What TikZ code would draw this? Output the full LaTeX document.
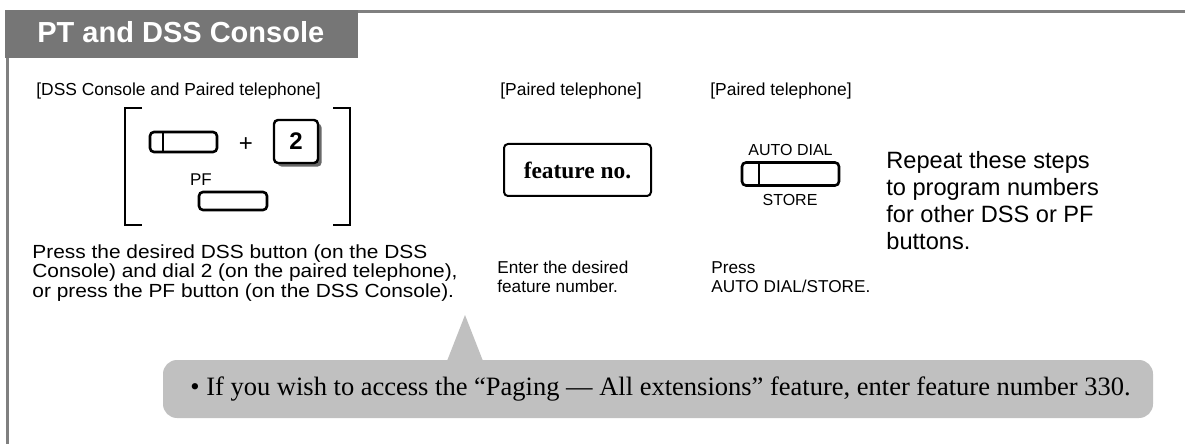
\documentclass[tikz,border=0pt]{standalone}
\usepackage{fontspec}
\setmainfont{Liberation Sans}
\newfontfamily\timesface{Liberation Serif}
\newfontfamily\widesans[FakeStretch=1.1]{Liberation Sans}
\usetikzlibrary{shadows}
\definecolor{headgray}{RGB}{118,118,118}
\definecolor{rulegray}{RGB}{128,128,128}
\definecolor{notegray}{RGB}{192,192,192}
\definecolor{shadegray}{RGB}{105,105,105}
\tikzset{
  button/.style={draw,line width=1.3pt,rounded corners=2pt,outer sep=0pt,inner sep=0pt},
  caption/.style={anchor=west,inner sep=0pt,font=\fontsize{8.7}{10}\selectfont},
  steptext/.style={anchor=west,inner sep=0pt,align=left},
}
\begin{document}
\begin{tikzpicture}[x=0.5pt,y=-0.5pt]
  \useasboundingbox (0,0) rectangle (1185,444);
  % frame and title tab
  \draw[rulegray,line width=1.5pt] (357,11.5) -- (1185,11.5);
  \draw[rulegray,line width=1.5pt] (7,58) -- (7,444);
  \fill[headgray] (5,10) rectangle (358,58);
  \node[anchor=west,inner sep=0pt,text=white,font=\bfseries\fontsize{14.5}{17}\selectfont] (title) at (37,32) {PT and DSS Console};
  % column captions
  \node[caption] (capdss) at (36,91) {[DSS Console and Paired telephone]};
  \node[caption] (capfeat) at (500,91) {[Paired telephone]};
  \node[caption] (capstore) at (710,91) {[Paired telephone]};
  % bracket with DSS and PF buttons
  \draw[line width=0.9pt] (142,108) -- (125,108) -- (125,225) -- (142,225);
  \draw[line width=0.9pt] (333,108) -- (350,108) -- (350,225) -- (333,225);
  \node[button,minimum width=33.5pt,minimum height=10pt] (dss) at (183.5,142) {};
  \draw[line width=1.3pt] ([xshift=6.5pt]dss.north west) -- ([xshift=6.5pt]dss.south west);
  \node[inner sep=0pt,font=\fontsize{12}{14}\selectfont] (plus) at (246,145) {+};
  \node[button,line width=1.2pt,fill=white,minimum width=22pt,minimum height=21.5pt,
        drop shadow={shadow xshift=1.8pt,shadow yshift=-1.8pt,fill=shadegray,opacity=1},
        font=\bfseries\fontsize{12}{14}\selectfont] (keytwo) at (296,141.5) {2};
  \node[inner sep=0pt,font=\fontsize{8.5}{10}\selectfont] (pflabel) at (201,180) {PF};
  \node[button,minimum width=34pt,minimum height=9pt] (pf) at (233,201) {};
  % feature number box
  \node[button,line width=1pt,minimum width=73.5pt,minimum height=26pt,
        font=\timesface\bfseries\fontsize{11.7}{14}\selectfont] (featbox) at (577.5,170) {feature no.};
  % auto dial / store button
  \node[button,minimum width=48.5pt,minimum height=11.5pt] (autobtn) at (790.5,174) {};
  \draw[line width=1.3pt] ([xshift=8.5pt]autobtn.north west) -- ([xshift=8.5pt]autobtn.south west);
  \node[inner sep=0pt,font=\fontsize{8}{10}\selectfont] (autolabel) at (790.5,150) {AUTO DIAL};
  \node[inner sep=0pt,font=\fontsize{8}{10}\selectfont] (storelabel) at (790,200) {STORE};
  % step texts
  \node[steptext,font={\widesans\fontsize{9.5}{9.75}\selectfont\lineskiplimit=-10pt}] (descdss) at (32,273)
    {Press the desired DSS button (on the DSS\\Console) and dial 2 (on the paired telephone),\\or press the PF button (on the DSS Console).};
  \node[steptext,font={\fontsize{8.6}{9.5}\selectfont\lineskiplimit=-10pt}] (descfeat) at (497,277)
    {Enter the desired\\feature number.};
  \node[steptext,font={\fontsize{8.6}{9.5}\selectfont\lineskiplimit=-10pt}] (descstore) at (711,277)
    {Press\\AUTO DIAL/STORE.};
  \node[steptext,font={\fontsize{11.8}{13.6}\selectfont\lineskiplimit=-10pt}] (repeat) at (886,200.5)
    {Repeat these steps\\to program numbers\\for other DSS or PF\\buttons.};
  % note balloon
  \fill[notegray,rounded corners=7pt] (163,360) rectangle (1153,418);
  \fill[notegray] (447,361) -- (465,315) -- (483,361) -- cycle;
  \node[anchor=west,inner sep=0pt,font=\timesface\fontsize{13.25}{15}\selectfont] (note) at (190,389)
    {• If you wish to access the “Paging — All extensions” feature, enter feature number 330.};
\end{tikzpicture}
\end{document}
